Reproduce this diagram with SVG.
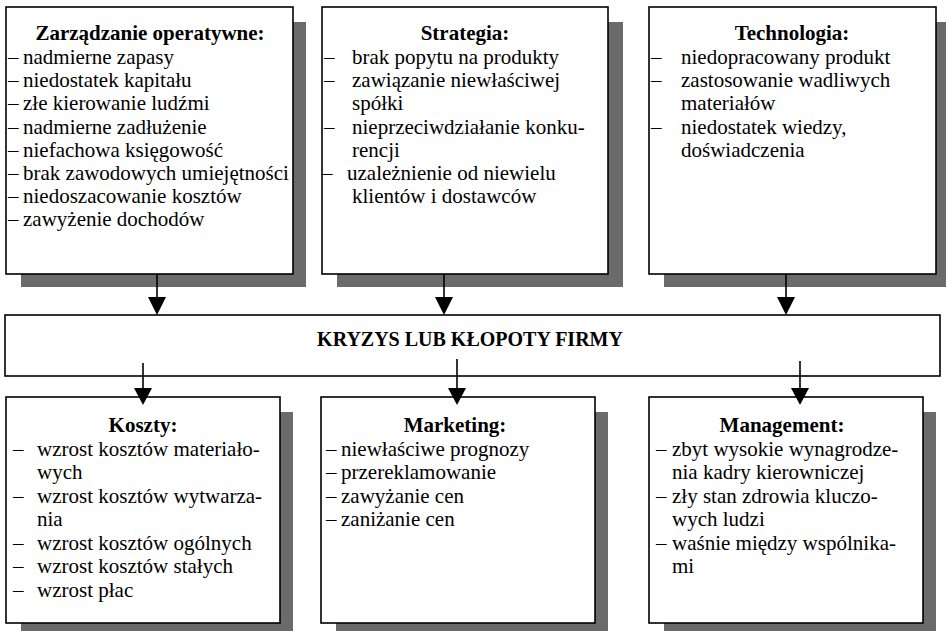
<svg xmlns="http://www.w3.org/2000/svg" width="946" height="631" viewBox="0 0 946 631">
<style>
.bg{fill:#ffffff}
.box{fill:#ffffff;stroke:#000000;stroke-width:1.6}
.sh{fill:#6b6b6b}
.t{font-family:"Liberation Serif","Times New Roman",serif;font-size:21px;fill:#000000}
.h{font-family:"Liberation Serif","Times New Roman",serif;font-size:21px;font-weight:bold;fill:#000000;text-anchor:middle}
.ln{stroke:#000000;stroke-width:1.6;fill:none}
.ah{fill:#000000}
</style>
<rect class="bg" x="0" y="0" width="946" height="631"/>

<g id="node-zarzadzanie">
<rect class="sh" x="21" y="22" width="285" height="265"/>
<rect class="box" x="6" y="7" width="287" height="267"/>
<text class="h" x="150" y="40">Zarządzanie operatywne:</text>
<text class="t"><tspan x="8" y="64">–</tspan><tspan x="23" y="64">nadmierne zapasy</tspan></text>
<text class="t"><tspan x="8" y="87">–</tspan><tspan x="23" y="87">niedostatek kapitału</tspan></text>
<text class="t"><tspan x="8" y="110">–</tspan><tspan x="23" y="110">złe kierowanie ludźmi</tspan></text>
<text class="t"><tspan x="8" y="134">–</tspan><tspan x="23" y="134">nadmierne zadłużenie</tspan></text>
<text class="t"><tspan x="8" y="157">–</tspan><tspan x="23" y="157">niefachowa księgowość</tspan></text>
<text class="t"><tspan x="8" y="180">–</tspan><tspan x="23" y="180">brak zawodowych umiejętności</tspan></text>
<text class="t"><tspan x="8" y="203">–</tspan><tspan x="23" y="203">niedoszacowanie kosztów</tspan></text>
<text class="t"><tspan x="8" y="226">–</tspan><tspan x="23" y="226">zawyżenie dochodów</tspan></text>
</g>

<g id="node-strategia">
<rect class="sh" x="337" y="22" width="286" height="265"/>
<rect class="box" x="322" y="7" width="286" height="267"/>
<text class="h" x="465" y="40">Strategia:</text>
<text class="t"><tspan x="324" y="64">–</tspan><tspan x="352" y="64">brak popytu na produkty</tspan></text>
<text class="t"><tspan x="324" y="87">–</tspan><tspan x="352" y="87">zawiązanie niewłaściwej</tspan></text>
<text class="t"><tspan x="352" y="110">spółki</tspan></text>
<text class="t"><tspan x="324" y="134">–</tspan><tspan x="352" y="134">nieprzeciwdziałanie konku-</tspan></text>
<text class="t"><tspan x="352" y="157">rencji</tspan></text>
<text class="t"><tspan x="322" y="180">–</tspan><tspan x="347" y="180">uzależnienie od niewielu</tspan></text>
<text class="t"><tspan x="352" y="203">klientów i dostawców</tspan></text>
</g>

<g id="node-technologia">
<rect class="sh" x="664" y="22" width="287" height="265"/>
<rect class="box" x="649" y="7" width="287" height="267"/>
<text class="h" x="792" y="40">Technologia:</text>
<text class="t"><tspan x="651" y="64">–</tspan><tspan x="681" y="64">niedopracowany produkt</tspan></text>
<text class="t"><tspan x="651" y="87">–</tspan><tspan x="681" y="87">zastosowanie wadliwych</tspan></text>
<text class="t"><tspan x="681" y="110">materiałów</tspan></text>
<text class="t"><tspan x="651" y="134">–</tspan><tspan x="681" y="134">niedostatek wiedzy,</tspan></text>
<text class="t"><tspan x="681" y="157">doświadczenia</tspan></text>
</g>

<g id="node-kryzys">
<rect class="box" x="5" y="315" width="935" height="61"/>
<text class="h" x="470" y="346" style="font-size:20px">KRYZYS LUB KŁOPOTY FIRMY</text>
</g>

<g id="node-koszty">
<rect class="sh" x="21" y="412" width="272" height="226"/>
<rect class="box" x="6" y="397" width="274" height="226"/>
<text class="h" x="143" y="432">Koszty:</text>
<text class="t"><tspan x="13" y="455.5">–</tspan><tspan x="37" y="455.5">wzrost kosztów materiało-</tspan></text>
<text class="t"><tspan x="37" y="479">wych</tspan></text>
<text class="t"><tspan x="13" y="502.5">–</tspan><tspan x="37" y="502.5">wzrost kosztów wytwarza-</tspan></text>
<text class="t"><tspan x="37" y="526">nia</tspan></text>
<text class="t"><tspan x="13" y="549.5">–</tspan><tspan x="37" y="549.5">wzrost kosztów ogólnych</tspan></text>
<text class="t"><tspan x="13" y="573">–</tspan><tspan x="37" y="573">wzrost kosztów stałych</tspan></text>
<text class="t"><tspan x="13" y="596.5">–</tspan><tspan x="37" y="596.5">wzrost płac</tspan></text>
</g>

<g id="node-marketing">
<rect class="sh" x="336" y="412" width="272" height="226"/>
<rect class="box" x="321" y="397" width="274" height="226"/>
<text class="h" x="455" y="432">Marketing:</text>
<text class="t"><tspan x="326" y="455.5">–</tspan><tspan x="341" y="455.5">niewłaściwe prognozy</tspan></text>
<text class="t"><tspan x="326" y="479">–</tspan><tspan x="341" y="479">przereklamowanie</tspan></text>
<text class="t"><tspan x="326" y="502.5">–</tspan><tspan x="341" y="502.5">zawyżanie cen</tspan></text>
<text class="t"><tspan x="326" y="526">–</tspan><tspan x="341" y="526">zaniżanie cen</tspan></text>
</g>

<g id="node-management">
<rect class="sh" x="664" y="412" width="272" height="226"/>
<rect class="box" x="649" y="397" width="274" height="226"/>
<text class="h" x="782" y="432">Management:</text>
<text class="t"><tspan x="656" y="455.5">–</tspan><tspan x="672" y="455.5">zbyt wysokie wynagrodze-</tspan></text>
<text class="t"><tspan x="672" y="479">nia kadry kierowniczej</tspan></text>
<text class="t"><tspan x="656" y="502.5">–</tspan><tspan x="672" y="502.5">zły stan zdrowia kluczo-</tspan></text>
<text class="t"><tspan x="672" y="526">wych ludzi</tspan></text>
<text class="t"><tspan x="656" y="549.5">–</tspan><tspan x="672" y="549.5">waśnie między wspólnika-</tspan></text>
<text class="t"><tspan x="672" y="573">mi</tspan></text>
</g>

<g id="connectors">
<line class="ln" x1="157" y1="274" x2="157" y2="298"/>
<polygon class="ah" points="148,297 166,297 157,315"/>
<line class="ln" x1="444" y1="274" x2="444" y2="298"/>
<polygon class="ah" points="435,297 453,297 444,315"/>
<line class="ln" x1="786" y1="274" x2="786" y2="298"/>
<polygon class="ah" points="777,297 795,297 786,315"/>
<line class="ln" x1="143" y1="363" x2="143" y2="389"/>
<polygon class="ah" points="134,388 152,388 143,405"/>
<line class="ln" x1="457" y1="359" x2="457" y2="389"/>
<polygon class="ah" points="448,388 466,388 457,405"/>
<line class="ln" x1="800" y1="361" x2="800" y2="389"/>
<polygon class="ah" points="791,388 809,388 800,405"/>
</g>
</svg>
